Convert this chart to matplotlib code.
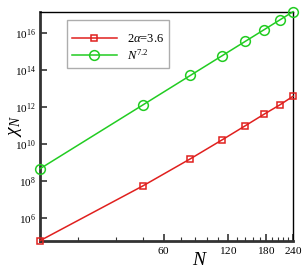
import numpy as np
import matplotlib
matplotlib.use("Agg")
import matplotlib.pyplot as plt
from matplotlib.ticker import FixedLocator, FuncFormatter, NullFormatter

plt.rcParams['font.family'] = ['Liberation Serif', 'DejaVu Serif']
plt.rcParams['mathtext.fontset'] = 'custom'
plt.rcParams['mathtext.rm'] = 'Liberation Serif'
plt.rcParams['mathtext.it'] = 'Liberation Serif:italic'

N = [16, 48, 80, 112, 144, 176, 208, 240]
chi_a = [6.2e4, 5.5e7, 1.62e9, 1.66e10, 9.8e10, 4.1e11, 1.29e12, 3.8e12]
chi_b = [4.68e8, 1.27e12, 5.04e13, 5.68e14, 3.47e15, 1.47e16, 4.90e16, 1.37e17]
xmajor = [60, 120, 180, 240]
xminor = [24, 36, 48, 72, 84, 96, 108, 132, 144, 156, 168, 192, 204, 216, 228]
yexp = [6, 8, 10, 12, 14, 16]

fig = plt.figure(figsize=(3.05, 2.72), dpi=100)
ax = fig.add_axes([0.131, 0.115, 0.83, 0.842])

red = '#e0201e'
green = '#22cc22'
ax.plot(N, chi_a, '-', color=red, lw=1.1, marker='s', ms=5, mfc='none',
        mec=red, mew=1.1, label=r'2$\alpha$=3.6', clip_on=False, zorder=3)
ax.plot(N, chi_b, '-', color=green, lw=1.1, marker='o', ms=7, mfc='none',
        mec=green, mew=1.1, label=r'$N^{7.2}$', clip_on=False, zorder=3)

ax.set_xscale('log')
ax.set_yscale('log')
ax.set_xlim(16, 240)
ax.set_ylim(6.2e4, 1.37e17)

ax.xaxis.set_major_locator(FixedLocator(xmajor))
ax.xaxis.set_minor_locator(FixedLocator(xminor))
ax.xaxis.set_major_formatter(FuncFormatter(lambda v, p: r'$\mathit{%d}$' % round(v)))
ax.xaxis.set_minor_formatter(NullFormatter())
ax.yaxis.set_major_locator(FixedLocator([10.0 ** e for e in yexp]))
ax.yaxis.set_minor_locator(FixedLocator([]))
ax.yaxis.set_major_formatter(FuncFormatter(
    lambda v, p: r'$\mathit{10}^{\mathit{%d}}$' % round(np.log10(v))))

ax.tick_params(which='both', direction='in', top=False, right=False,
               color='#333333', labelsize=8)
ax.tick_params(which='major', length=5, width=1.2, pad=3)
ax.tick_params(which='minor', length=3, width=0.8)

for s in ['left', 'bottom']:
    ax.spines[s].set_linewidth(2)
    ax.spines[s].set_color('#333333')
for s in ['top', 'right']:
    ax.spines[s].set_linewidth(1)
    ax.spines[s].set_color('black')

ax.set_xlabel(r'$N$', fontsize=14)
ax.xaxis.set_label_coords(0.632, -0.049)
ax.set_ylabel(r'$\chi_N$', fontsize=14)
ax.yaxis.set_label_coords(-0.065, 0.5)

leg = ax.legend(loc='upper left', bbox_to_anchor=(0.105, 0.964), fontsize=9,
                frameon=True, fancybox=False, edgecolor='#999999',
                handlelength=3.6, borderpad=0.4, labelspacing=0.25,
                borderaxespad=0, title=' ', title_fontsize=5)
leg.get_frame().set_linewidth(1)

fig.savefig('out.png', dpi=100)
